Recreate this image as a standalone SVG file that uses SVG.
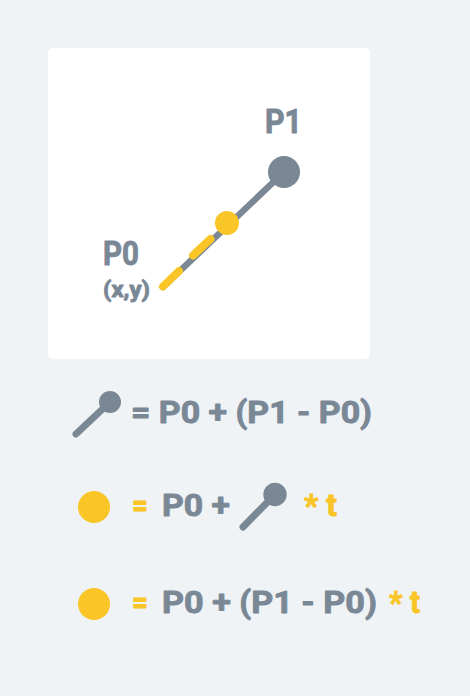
<svg xmlns="http://www.w3.org/2000/svg" width="470" height="696" viewBox="0 0 470 696">
<style>
.t{font-family:Roboto,"Liberation Sans",sans-serif;font-weight:700;stroke-width:0.9;stroke-linejoin:round}
.g{fill:#7a8896}
.t.g{stroke:#7a8896}
.y{fill:#f9c527}
.t.y{stroke:#f9c527}
.gs{stroke:#7a8896;stroke-linecap:round;fill:none}
.ys{stroke:#f9c527;stroke-linecap:round;fill:none}
</style>
<rect width="470" height="696" fill="#eff3f6"/>
<g id="card">
<rect x="48" y="48" width="322" height="311" rx="5" fill="#ffffff"/>
</g>
<g id="connectors">
<line class="gs" x1="163" y1="287" x2="284" y2="172" stroke-width="6.5"/>
<line class="ys" x1="163" y1="286.5" x2="179" y2="271" stroke-width="8"/>
<line class="ys" x1="193" y1="255.5" x2="210.5" y2="239" stroke-width="8"/>
</g>
<g id="p1">
<circle class="g" cx="284" cy="172" r="16"/>
<text class="t g" x="265" y="133" font-size="33" textLength="37" lengthAdjust="spacingAndGlyphs">P1</text>
</g>
<g id="pt">
<circle class="y" cx="227" cy="223" r="12"/>
</g>
<g id="p0">
<text class="t g" x="103" y="265" font-size="34" textLength="36" lengthAdjust="spacingAndGlyphs">P0</text>
<text class="t g" x="103" y="297" font-size="22" textLength="47" lengthAdjust="spacingAndGlyphs">(x,y)</text>
</g>
<g id="eq1">
<line class="gs" x1="76" y1="434" x2="110" y2="402" stroke-width="7"/>
<circle class="g" cx="110" cy="402" r="11"/>
<text class="t g" x="131" y="423" font-size="31" textLength="241" lengthAdjust="spacingAndGlyphs">= P0 + (P1 - P0)</text>
</g>
<g id="eq2">
<circle class="y" cx="94" cy="507" r="16"/>
<text class="t y" x="132" y="516" font-size="31" textLength="16" lengthAdjust="spacingAndGlyphs">=</text>
<text class="t g" x="162" y="516" font-size="31" textLength="68" lengthAdjust="spacingAndGlyphs">P0 +</text>
<line class="gs" x1="243" y1="527" x2="275" y2="494.5" stroke-width="7"/>
<circle class="g" cx="275" cy="494.5" r="11.7"/>
<text class="t y" x="304" y="516" font-size="31" textLength="33" lengthAdjust="spacingAndGlyphs">* t</text>
</g>
<g id="eq3">
<circle class="y" cx="94" cy="604" r="16"/>
<text class="t y" x="132" y="613" font-size="31" textLength="16" lengthAdjust="spacingAndGlyphs">=</text>
<text class="t g" x="162" y="613" font-size="31" textLength="215" lengthAdjust="spacingAndGlyphs">P0 + (P1 - P0)</text>
<text class="t y" x="389" y="613" font-size="31" textLength="31" lengthAdjust="spacingAndGlyphs">* t</text>
</g>
</svg>
